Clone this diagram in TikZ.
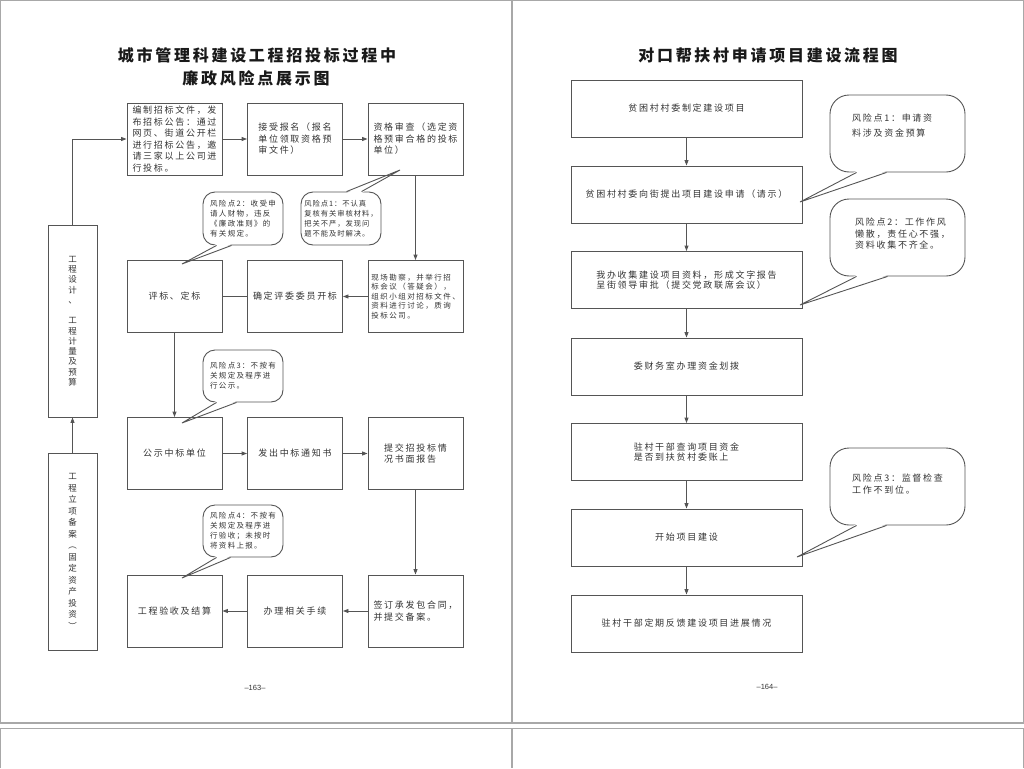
\documentclass[tikz,border=0pt]{standalone}
\usepackage{fontspec}
\setmainfont{Noto Sans CJK SC}
\newfontfamily\bxf[LetterSpace=19]{Noto Sans CJK SC}
\newfontfamily\cof[LetterSpace=17]{Noto Sans CJK SC}
\newfontfamily\cofn[LetterSpace=13]{Noto Sans CJK SC}
\newfontfamily\smf[LetterSpace=20]{Noto Sans CJK SC}
\newfontfamily\ttlf[LetterSpace=17]{Noto Sans CJK SC}
\newfontfamily\numfont{Liberation Sans}
\usetikzlibrary{arrows.meta,calc}
\definecolor{boxc}{HTML}{555555}
\definecolor{txtc}{HTML}{333333}
\definecolor{framec}{HTML}{A8A8A8}
\newcommand\calltail[4]{%
  \fill[white] ([yshift=#4]#1) -- ($(#1)!0.4!(#3)$) -- ($(#2)!0.4!(#3)$) -- ([yshift=#4]#2) -- cycle;
  \draw[tailline] (#1) -- (#3) -- (#2);}
\tikzset{
  boxline/.style={draw=boxc, line width=0.9pt},
  lbox/.style={boxline, fill=white, minimum width=95pt, minimum height=72pt, inner sep=0pt,
    align=left, text=txtc, font=\bxf\fontsize{9}{11.5}\selectfont},
  lboxs/.style={lbox, font=\smf\fontsize{7.5}{9.6}\selectfont},
  vbox/.style={boxline, fill=white, minimum width=49pt, inner sep=0pt, align=center, text=txtc},
  rbox/.style={boxline, fill=white, minimum width=231pt, minimum height=57pt, inner sep=0pt,
    align=left, text=txtc, font=\bxf\fontsize{9}{10.5}\selectfont},
  lcall/.style={boxline, fill=white, rounded corners=12pt, minimum width=80pt, minimum height=53pt,
    inner sep=0pt, align=left, text=txtc, font=\cof\fontsize{7.5}{10}\selectfont},
  rcall/.style={boxline, fill=white, rounded corners=19pt, minimum width=135pt, minimum height=77pt, inner sep=0pt},
  rctext/.style={anchor=north west, inner sep=0pt, align=left, text=txtc},
  tailline/.style={draw=boxc, line width=0.9pt, line join=miter},
  arr/.style={draw=boxc, line width=0.9pt, -{Triangle[length=5.5pt,width=4pt]}},
  ln/.style={draw=boxc, line width=0.9pt},
  ttl/.style={inner sep=0pt, text=black!90, font=\ttlf\bfseries\fontsize{16}{18}\selectfont},
  pnum/.style={inner sep=0pt, text=txtc, font=\numfont\fontsize{7.5}{8}\selectfont}
}
\begin{document}
\begin{tikzpicture}[x=1pt,y=-1pt]
\useasboundingbox (0,0) rectangle (1024,768);
% page frame
\draw[framec, line width=0.8pt] (0,0.5) -- (1024,0.5);
\draw[framec, line width=0.8pt] (0.5,0) -- (0.5,723) (1023.5,0) -- (1023.5,723);
\draw[framec, line width=1.4pt] (512,0) -- (512,723);
\draw[framec, line width=1.2pt] (0,723) -- (1024,723);
\draw[framec, line width=1.5pt] (0,728.5) -- (1024,728.5);
\draw[framec, line width=0.8pt] (0.5,728) -- (0.5,768) (1023.5,728) -- (1023.5,768);
\draw[framec, line width=1.4pt] (512,728) -- (512,768);

% titles
\node[ttl] (t1) at (257,55) {城市管理科建设工程招投标过程中};
\node[ttl] (t2) at (256,78) {廉政风险点展示图};
\node[ttl] (t3) at (768,55) {对口帮扶村申请项目建设流程图};

% left page boxes
\node[lbox] (a1) at (174.5,139) {编制招标文件，发\\布招标公告：通过\\网页、街道公开栏\\进行招标公告，邀\\请三家以上公司进\\行投标。};
\node[lbox] (a2) at (295,139) {接受报名（报名\\单位领取资格预\\审文件）};
\node[lbox] (a3) at (415.5,139) {资格审查（选定资\\格预审合格的投标\\单位）};
\node[lbox] (b1) at (174.5,296.5) {评标、定标};
\node[lbox] (b2) at (295,296.5) {确定评委委员开标};
\node[lboxs] (b3) at (415.5,296.5) {现场勘察，并举行招\\标会议（答疑会），\\组织小组对招标文件、\\资料进行讨论，质询\\投标公司。};
\node[lbox] (d1) at (174.5,453.5) {公示中标单位};
\node[lbox] (d2) at (295,453.5) {发出中标通知书};
\node[lbox] (d3) at (415.5,453.5) {提交招投标情\\况书面报告};
\node[lbox] (e1) at (174.5,611) {工程验收及结算};
\node[lbox] (e2) at (295,611) {办理相关手续};
\node[lbox] (e3) at (415.5,611) {签订承发包合同，\\并提交备案。};
\node[vbox, minimum height=192pt, font=\bxf\fontsize{8.5}{10.25}\selectfont] (v1) at (72.5,321)
  {工\\程\\设\\计\\、\\\mbox{}\\工\\程\\计\\量\\及\\预\\算};
\node[vbox, minimum height=197pt, font=\bxf\fontsize{8.5}{11.5}\selectfont] (v2) at (72.5,551.5)
  {工\\程\\立\\项\\备\\案\\︵\\固\\定\\资\\产\\投\\资\\︶};

% left connectors
\draw[arr] (v2.north) -- (v1.south);
\draw[arr] (v1.north) |- (a1.west);
\draw[arr] (a1.east) -- (a2.west);
\draw[arr] (a2.east) -- (a3.west);
\draw[arr] (a3.south) -- (b3.north);
\draw[arr] (b3.west) -- (b2.east);
\draw[ln] (b2.west) -- (b1.east);
\draw[arr] (b1.south) -- (d1.north);
\draw[arr] (d1.east) -- (d2.west);
\draw[arr] (d2.east) -- (d3.west);
\draw[arr] (d3.south) -- (e3.north);
\draw[arr] (e3.west) -- (e2.east);
\draw[arr] (e2.west) -- (e1.east);

% left callouts
\node[lcall] (c2) at (243,218.5) {风险点2：收受申\\请人财物，违反\\《廉政准则》的\\有关规定。};
\node[lcall, font=\cofn\fontsize{7.3}{10}\selectfont] (c1) at (341,218.5) {风险点1：不认真\\复核有关审核材料，\\把关不严，发现问\\题不能及时解决。};
\node[lcall, minimum height=52pt] (c3) at (243,376) {风险点3：不按有\\关规定及程序进\\行公示。};
\node[lcall, minimum height=52pt] (c4) at (243,531) {风险点4：不按有\\关规定及程序进\\行验收；未按时\\将资料上报。};
\coordinate (c2a) at ([xshift=14pt]c2.south west);
\coordinate (c2b) at ([xshift=29pt]c2.south west);
\coordinate (c2t) at (182,264);
\calltail{c2a}{c2b}{c2t}{1.5pt}
\coordinate (c1a) at ([xshift=46pt]c1.north west);
\coordinate (c1b) at ([xshift=61pt]c1.north west);
\coordinate (c1t) at (400,170);
\calltail{c1a}{c1b}{c1t}{-1.5pt}
\coordinate (c3a) at ([xshift=14pt]c3.south west);
\coordinate (c3b) at ([xshift=34pt]c3.south west);
\coordinate (c3t) at (182,423);
\calltail{c3a}{c3b}{c3t}{1.5pt}
\coordinate (c4a) at ([xshift=14pt]c4.south west);
\coordinate (c4b) at ([xshift=28pt]c4.south west);
\coordinate (c4t) at (182,578);
\calltail{c4a}{c4b}{c4t}{1.5pt}

% right page boxes
\node[rbox] (r1) at (686.5,108.5) {贫困村村委制定建设项目};
\node[rbox] (r2) at (686.5,194.5) {贫困村村委向街提出项目建设申请（请示）};
\node[rbox] (r3) at (686.5,280) {我办收集建设项目资料，形成文字报告\\呈街领导审批（提交党政联席会议）};
\node[rbox] (r4) at (686.5,366.5) {委财务室办理资金划拨};
\node[rbox] (r5) at (686.5,452) {驻村干部查询项目资金\\是否到扶贫村委账上};
\node[rbox] (r6) at (686.5,537.5) {开始项目建设};
\node[rbox] (r7) at (686.5,623.5) {驻村干部定期反馈建设项目进展情况};
\draw[arr] (r1.south) -- (r2.north);
\draw[arr] (r2.south) -- (r3.north);
\draw[arr] (r3.south) -- (r4.north);
\draw[arr] (r4.south) -- (r5.north);
\draw[arr] (r5.south) -- (r6.north);
\draw[arr] (r6.south) -- (r7.north);

% right callouts
\node[rcall] (rc1) at (897.5,133.5) {};
\node[rcall] (rc2) at (897.5,237.5) {};
\node[rcall] (rc3) at (897.5,486.5) {};
\node[rctext, font=\bxf\fontsize{9}{15}\selectfont] (rt1) at (852,113.5) {风险点1：申请资\\料涉及资金预算};
\node[rctext, font=\bxf\fontsize{9}{11.7}\selectfont] (rt2) at (855,217.5) {风险点2：工作作风\\懒散，责任心不强，\\资料收集不齐全。};
\node[rctext, font=\bxf\fontsize{9}{11.7}\selectfont] (rt3) at (852,473.5) {风险点3：监督检查\\工作不到位。};
\coordinate (rc1a) at ([xshift=27pt]rc1.south west);
\coordinate (rc1b) at ([xshift=57pt]rc1.south west);
\coordinate (rc1t) at (800,202);
\calltail{rc1a}{rc1b}{rc1t}{1.5pt}
\coordinate (rc2a) at ([xshift=27pt]rc2.south west);
\coordinate (rc2b) at ([xshift=58pt]rc2.south west);
\coordinate (rc2t) at (800,305);
\calltail{rc2a}{rc2b}{rc2t}{1.5pt}
\coordinate (rc3a) at ([xshift=27pt]rc3.south west);
\coordinate (rc3b) at ([xshift=57pt]rc3.south west);
\coordinate (rc3t) at (797,557);
\calltail{rc3a}{rc3b}{rc3t}{1.5pt}

% page numbers
\node[pnum] (p1) at (255,688) {–163–};
\node[pnum] (p2) at (767,687) {–164–};
\end{tikzpicture}
\end{document}
